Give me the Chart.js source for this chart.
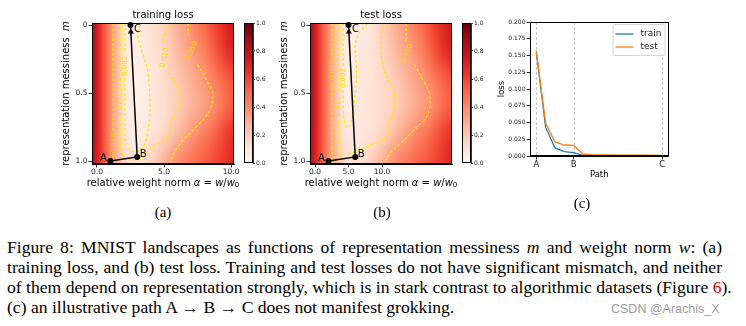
<!DOCTYPE html>
<html>
<head>
<meta charset="utf-8">
<script src="https://cdn.jsdelivr.net/npm/chart.js@4.4.0/dist/chart.umd.min.js"></script>
<style>
body { margin: 0; width: 746px; height: 326px; background: #fff; position: relative; overflow: hidden; }
canvas { position: absolute; top: 0; }
.cap { position: absolute; left: 7px; width: 650px; font-family: "Liberation Serif", serif; font-size: 16px; line-height: 20px; white-space: nowrap; color: #000; transform: scaleX(1.1); transform-origin: 0 0; }
.just { text-align: justify; text-align-last: justify; }
.sub { position: absolute; font-family: "Liberation Serif", serif; font-size: 15px; line-height: 20px; transform: translateX(-50%); }
.mark { position: absolute; left: 611px; top: 302px; font-family: "Liberation Sans", sans-serif; font-size: 12.5px; line-height: 15px; color: #9c9c9c; }
</style>
</head>
<body>
<canvas id="hmA" width="250" height="195" style="left:0px"></canvas>
<canvas id="cbA" width="40" height="195" style="left:236px"></canvas>
<canvas id="hmB" width="210" height="195" style="left:260px"></canvas>
<canvas id="cbB" width="40" height="195" style="left:454px"></canvas>
<canvas id="pathChart" width="200" height="195" style="left:480px"></canvas>

<div class="sub" style="left:163px;top:202px">(a)</div>
<div class="sub" style="left:382px;top:202px">(b)</div>
<div class="sub" style="left:582px;top:193px">(c)</div>

<div class="cap just" style="top:238px">Figure 8: MNIST landscapes as functions of representation messiness <i>m</i> and weight norm <i>w</i>: (a)</div>
<div class="cap just" style="top:258px">training loss, and (b) test loss. Training and test losses do not have significant mismatch, and neither</div>
<div class="cap just" style="top:278px">of them depend on representation strongly, which is in stark contrast to algorithmic datasets (Figure <span style="color:#e00000">6</span>).</div>
<div class="cap" style="top:298px">(c) an illustrative path A → B → C does not manifest grokking.</div>
<div class="mark">CSDN @Arachis_X</div>

<script>
// ---- data ----
// heatmap grids: rows are messiness m, columns are weight norm alpha, values on the 0..1 colour bar
const mRows = [0, 0.2, 0.4, 0.6, 0.8, 1.0];
const alphaColsA = [-0.5, 0, 0.5, 1, 1.5, 2, 2.5, 3, 3.5, 4, 4.5, 5, 5.5, 6, 6.5, 7, 7.5, 8, 8.5, 9, 9.5, 10, 10.5];
const trainGrid = [
	[0.90, 0.74, 0.56, 0.40, 0.25, 0.10, 0.05, 0.05, 0.08, 0.11, 0.14, 0.18, 0.23, 0.28, 0.33, 0.38, 0.44, 0.50, 0.56, 0.62, 0.68, 0.73, 0.76],
	[0.90, 0.74, 0.56, 0.40, 0.25, 0.10, 0.05, 0.045, 0.07, 0.10, 0.13, 0.16, 0.20, 0.25, 0.29, 0.33, 0.38, 0.43, 0.50, 0.57, 0.64, 0.69, 0.72],
	[0.90, 0.74, 0.56, 0.40, 0.25, 0.10, 0.05, 0.04, 0.05, 0.08, 0.11, 0.14, 0.17, 0.20, 0.24, 0.28, 0.32, 0.36, 0.41, 0.46, 0.51, 0.55, 0.58],
	[0.90, 0.74, 0.56, 0.40, 0.25, 0.10, 0.05, 0.04, 0.05, 0.075, 0.105, 0.13, 0.16, 0.19, 0.22, 0.26, 0.29, 0.33, 0.37, 0.42, 0.48, 0.53, 0.56],
	[0.89, 0.73, 0.56, 0.40, 0.25, 0.11, 0.06, 0.05, 0.07, 0.10, 0.13, 0.16, 0.20, 0.25, 0.30, 0.35, 0.40, 0.44, 0.49, 0.54, 0.60, 0.65, 0.68],
	[0.87, 0.72, 0.56, 0.40, 0.28, 0.17, 0.13, 0.12, 0.13, 0.16, 0.21, 0.27, 0.34, 0.39, 0.43, 0.46, 0.50, 0.53, 0.56, 0.60, 0.64, 0.68, 0.70],
];
const alphaColsB = [-1, 0, 1, 2, 3, 4, 5, 6, 7, 8, 9, 10, 11, 12, 13, 14, 15, 16, 17, 18, 19, 20, 21];
const testGrid = [
	[0.90, 0.74, 0.56, 0.40, 0.25, 0.10, 0.05, 0.05, 0.06, 0.08, 0.14, 0.18, 0.23, 0.28, 0.33, 0.38, 0.44, 0.50, 0.56, 0.62, 0.68, 0.73, 0.76],
	[0.90, 0.74, 0.56, 0.40, 0.25, 0.10, 0.05, 0.065, 0.085, 0.10, 0.13, 0.16, 0.20, 0.25, 0.29, 0.33, 0.38, 0.43, 0.50, 0.57, 0.64, 0.69, 0.72],
	[0.90, 0.74, 0.56, 0.40, 0.25, 0.10, 0.05, 0.065, 0.085, 0.10, 0.12, 0.145, 0.17, 0.20, 0.24, 0.28, 0.32, 0.36, 0.41, 0.46, 0.51, 0.55, 0.58],
	[0.90, 0.74, 0.56, 0.40, 0.25, 0.10, 0.055, 0.07, 0.09, 0.105, 0.12, 0.14, 0.16, 0.19, 0.22, 0.26, 0.29, 0.33, 0.37, 0.42, 0.48, 0.53, 0.56],
	[0.89, 0.73, 0.56, 0.40, 0.25, 0.12, 0.085, 0.08, 0.09, 0.10, 0.13, 0.16, 0.20, 0.25, 0.30, 0.35, 0.40, 0.44, 0.49, 0.54, 0.60, 0.65, 0.68],
	[0.87, 0.72, 0.56, 0.40, 0.28, 0.17, 0.13, 0.12, 0.13, 0.16, 0.21, 0.27, 0.34, 0.39, 0.43, 0.46, 0.50, 0.53, 0.56, 0.60, 0.64, 0.68, 0.70],
];

// contour lines as [alpha, m] points, null = gap for the inline label; labels are [alpha, m, angle]
const trainContours = [
	{ level: "0.050", pts: [[1.2, -0.015], [1.18, 0.25], [1.22, 0.55], [1.2, 0.79], null, [1.2, 0.95], [1.22, 1.022]], labels: [[1.25, 0.87, -90]] },
	{ level: "0.010", pts: [[1.75, -0.015], [1.72, 0.25], [1.74, 0.52], null, [1.74, 0.68], [1.76, 0.88], [1.95, 0.965], [2.5, 0.99], [3.2, 0.985], [3.7, 0.935], [4.3, 0.88], [5.0, 0.85], [5.4, 0.8], [5.45, 0.72], [5.9, 0.65], [6.2, 0.54], [5.95, 0.45], [5.3, 0.35], null, [4.9, 0.12], [5.3, -0.015]], labels: [[1.74, 0.6, -90], [5.05, 0.24, -78]] },
	{ level: "0.002", pts: [[2.1, -0.015], [2.08, 0.21], null, [2.08, 0.39], [2.1, 0.7], [2.15, 0.87], [2.5, 0.925], [3.0, 0.93], [3.5, 0.89], [3.85, 0.75], [3.95, 0.6], [3.8, 0.35], [3.3, 0.17], [3.05, 0.08], [3.26, -0.015]], labels: [[2.1, 0.3, -90]] },
	{ level: "0.050", pts: [[6.8, -0.015], [6.8, 0.09], null, [7.5, 0.29], [8.2, 0.41], [8.66, 0.51], [8.4, 0.63], [7.3, 0.76], [6.4, 0.85], [5.7, 0.95], [5.5, 1.022]], labels: [[7.05, 0.19, -65]] },
];
const testContours = [
	{ level: "0.050", pts: [[2.54, -0.015], [2.54, 0.25], null, [2.55, 0.42], [2.5, 0.7], [2.55, 1.022]], labels: [[2.6, 0.33, -90]] },
	{ level: "0.010", pts: [[3.5, -0.015], [3.45, 0.3], [3.48, 0.5], null, [3.5, 0.7], [3.5, 0.9], [3.7, 0.97], [4.6, 0.955], [6.4, 0.925], [8.6, 0.875], [10.0, 0.85], [10.9, 0.8], [10.9, 0.73], [11.6, 0.66], [11.9, 0.55], [11.6, 0.46], [10.6, 0.37], [10.0, 0.25], [9.9, 0.1], [10.3, -0.015]], labels: [[3.48, 0.6, -90]] },
	{ level: "0.002", pts: [[4.2, -0.015], [4.2, 0.3], null, [4.2, 0.48], [4.25, 0.65], [4.55, 0.74], [5.0, 0.755], [5.5, 0.69], [5.9, 0.55], [6.2, 0.35], [6.0, 0.14], [6.6, 0.06], [7.9, -0.015]], labels: [[4.2, 0.39, -90]] },
	{ level: "0.050", pts: [[13.6, -0.015], [13.6, 0.13], null, [14.8, 0.29], [16.2, 0.41], [17.1, 0.51], [16.8, 0.66], [14.6, 0.78], [12.8, 0.87], [11.1, 0.95], [10.3, 1.022]], labels: [[13.75, 0.21, -65]] },
];

// path A -> B -> C drawn on the landscapes
const pathNames = ["A", "B", "C"];
const pathTrain = [[1.0, 1.0], [3.0, 0.97], [2.5, 0.0]];
const arrowTrain = [2.53, 0.05];
const pathTest = [[2.0, 1.0], [6.0, 0.97], [5.0, 0.0]];
const arrowTest = [5.05, 0.05];

// axis ticks
const heatXTicks = [0, 5, 10];
const heatXTickLabels = ["0.0", "5.0", "10.0"];
const heatYTicks = [0, 0.5, 1.0];
const heatYTickLabels = ["0", "0.5", "1.0"];
const cbarRange = [0, 1];
const cbarTicks = [0, 0.2, 0.4, 0.6, 0.8, 1.0];
const cbarTickLabels = ["0.0", "0.2", "0.4", "0.6", "0.8", "1.0"];

// loss along the path (c)
const pathPos = [0, 2, 4, 6, 8, 10, 12, 15, 18, 21, 24, 27];
const trainLoss = [0.155, 0.043, 0.012, 0.0064, 0.005, 0.0009, 0.0004, 0.0003, 0.0002, 0.0002, 0.0002, 0.0002];
const testLoss = [0.157, 0.049, 0.021, 0.0164, 0.016, 0.003, 0.0022, 0.0017, 0.0014, 0.0012, 0.0011, 0.001];
const pathTicks = [0, 8, 27];
const pathTickLabels = ["A", "B", "C"];

// ---- drawing ----
Chart.defaults.font.family = '"DejaVu Sans"';
Chart.defaults.color = "#222";

const redsStops = ["#fff5f0", "#fee0d2", "#fcbba1", "#fc9272", "#fb6a4a", "#ef3b2c", "#cb181d", "#a50f15", "#67000d"];
const redsRgb = redsStops.map((h) => [parseInt(h.slice(1, 3), 16), parseInt(h.slice(3, 5), 16), parseInt(h.slice(5, 7), 16)]);
function reds(v) {
	v = Math.max(0, Math.min(1, v));
	const t = v * (redsRgb.length - 1);
	const i = Math.min(Math.floor(t), redsRgb.length - 2);
	const f = t - i;
	return redsRgb[i].map((c, k) => Math.round(c + (redsRgb[i + 1][k] - c) * f));
}

const N10 = '10px "DejaVu Sans"';
const I10 = 'italic 10px "DejaVu Sans"';

function drawParts(ctx, parts, x, y, rot) {
	ctx.save();
	ctx.translate(x, y);
	if (rot) ctx.rotate(rot);
	let w = 0;
	parts.forEach((p) => { ctx.font = p.font; w += ctx.measureText(p.text).width; });
	let cx = -w / 2;
	ctx.textBaseline = "middle";
	ctx.textAlign = "left";
	ctx.fillStyle = "#000";
	parts.forEach((p) => {
		ctx.font = p.font;
		ctx.fillText(p.text, cx, p.dy || 0);
		cx += ctx.measureText(p.text).width;
	});
	ctx.restore();
}

const framePlugin = {
	id: "frame",
	afterDatasetsDraw(chart) {
		const a = chart.chartArea, ctx = chart.ctx;
		ctx.save();
		ctx.strokeStyle = "#000";
		ctx.lineWidth = 1;
		ctx.strokeRect(Math.round(a.left) + 0.5, Math.round(a.top) + 0.5, Math.round(a.right - a.left) - 1, Math.round(a.bottom - a.top) - 1);
		ctx.restore();
	},
};

function heatmapPlugin(cols, rows, grid) {
	return {
		id: "heatmap",
		beforeDatasetsDraw(chart) {
			const { ctx, chartArea: a, scales: { x, y } } = chart;
			const nx = cols.length, ny = rows.length;
			const off = document.createElement("canvas");
			off.width = nx;
			off.height = ny;
			const octx = off.getContext("2d");
			const img = octx.createImageData(nx, ny);
			grid.forEach((row, j) => row.forEach((v, i) => {
				const c = reds(v), k = (j * nx + i) * 4;
				img.data[k] = c[0]; img.data[k + 1] = c[1]; img.data[k + 2] = c[2]; img.data[k + 3] = 255;
			}));
			octx.putImageData(img, 0, 0);
			const dx = cols[1] - cols[0], dy = rows[1] - rows[0];
			const x0 = x.getPixelForValue(cols[0] - dx / 2), x1 = x.getPixelForValue(cols[nx - 1] + dx / 2);
			const y0 = y.getPixelForValue(rows[0] - dy / 2), y1 = y.getPixelForValue(rows[ny - 1] + dy / 2);
			ctx.save();
			ctx.beginPath();
			ctx.rect(a.left, a.top, a.right - a.left, a.bottom - a.top);
			ctx.clip();
			ctx.imageSmoothingEnabled = true;
			ctx.imageSmoothingQuality = "high";
			ctx.drawImage(off, 0, 0, nx, ny, x0, y0, x1 - x0, y1 - y0);
			ctx.restore();
		},
	};
}

function heatOverlay(title, contours, path) {
	return {
		id: "heatOverlay",
		afterDatasetsDraw(chart) {
			const { ctx, chartArea: a, scales: { x, y } } = chart;
			// contour labels
			ctx.save();
			ctx.font = '7px "DejaVu Sans"';
			ctx.fillStyle = "#f2dc00";
			ctx.textAlign = "center";
			ctx.textBaseline = "middle";
			contours.forEach((c) => c.labels.forEach((l) => {
				ctx.save();
				ctx.translate(x.getPixelForValue(l[0]), y.getPixelForValue(l[1]));
				ctx.rotate((l[2] * Math.PI) / 180);
				ctx.fillText(c.level, 0, 0);
				ctx.restore();
			}));
			ctx.restore();
			// path letters
			const offs = [[-7, -3], [6, -3], [7, 4]];
			ctx.save();
			ctx.font = N10;
			ctx.fillStyle = "#000";
			ctx.textAlign = "center";
			ctx.textBaseline = "middle";
			path.forEach((p, i) => {
				ctx.fillText(pathNames[i], x.getPixelForValue(p[0]) + offs[i][0], y.getPixelForValue(p[1]) + offs[i][1]);
			});
			ctx.restore();
			// title and axis titles
			drawParts(ctx, [{ text: title, font: N10 }], (a.left + a.right) / 2, a.top - 8, 0);
			drawParts(ctx, [
				{ text: "relative weight norm ", font: N10 },
				{ text: "α", font: I10 },
				{ text: " = ", font: N10 },
				{ text: "w", font: I10 },
				{ text: "/", font: N10 },
				{ text: "w", font: I10 },
				{ text: "0", font: '7px "DejaVu Sans"', dy: 2.5 },
			], (a.left + a.right) / 2, a.bottom + 19, 0);
			drawParts(ctx, [
				{ text: "representation messiness  ", font: N10 },
				{ text: "m", font: I10 },
			], a.left - 26, (a.top + a.bottom) / 2, -Math.PI / 2);
		},
	};
}

const toXY = (pts) => {
	let last = 0;
	return pts.map((p) => {
		if (p === null) return { x: last, y: null };
		last = p[0];
		return { x: p[0], y: p[1] };
	});
};

const axisGrid = { drawOnChartArea: false, drawTicks: true, tickLength: 3.5, color: "#000", lineWidth: 0.8 };
const axisBorder = { display: true, color: "#000", width: 1 };

function heatmapChart(id, o) {
	const datasets = [
		{
			data: toXY(o.path), showLine: true, borderColor: "#000", borderWidth: 1.5,
			pointRadius: 3, pointBackgroundColor: "#000", pointBorderWidth: 0, clip: false,
		},
		{
			data: toXY([o.arrow]), showLine: false, pointStyle: "triangle", pointRadius: 3.5,
			pointBackgroundColor: "#000", pointBorderColor: "#000", pointBorderWidth: 0, clip: false,
		},
	];
	o.contours.forEach((c) => {
		datasets.push({
			data: toXY(c.pts), showLine: true, borderColor: "#ffea00", borderWidth: 1.2,
			borderDash: [3, 2], pointRadius: 0, tension: 0.35, spanGaps: false,
		});
	});

	new Chart(document.getElementById(id), {
		type: "scatter",
		data: { datasets: datasets },
		options: {
			responsive: false,
			animation: false,
			events: [],
			layout: { padding: { left: 0, right: o.padRight, top: 23, bottom: 0 } },
			plugins: { legend: { display: false }, tooltip: { enabled: false } },
			scales: {
				x: {
					type: "linear", min: o.xMin, max: o.xMax,
					afterFit: (s) => { s.height = 31; },
					afterBuildTicks: (s) => { s.ticks = heatXTicks.map((v) => ({ value: v })); },
					ticks: { callback: (v, i) => heatXTickLabels[i], font: { size: 7.5 }, padding: 0, maxRotation: 0, autoSkip: false },
					grid: axisGrid, border: axisBorder,
				},
				y: {
					type: "linear", reverse: true, min: -0.015, max: 1.022,
					afterFit: (s) => { s.width = o.yAxisWidth; },
					afterBuildTicks: (s) => { s.ticks = heatYTicks.map((v) => ({ value: v })); },
					ticks: { callback: (v, i) => heatYTickLabels[i], font: { size: 7.5 }, padding: 1, autoSkip: false },
					grid: axisGrid, border: axisBorder,
				},
			},
		},
		plugins: [heatmapPlugin(o.cols, mRows, o.grid), heatOverlay(o.title, o.contours, o.path), framePlugin],
	});
}

function colorbarChart(id) {
	new Chart(document.getElementById(id), {
		type: "bar",
		data: {
			labels: [""],
			datasets: [{
				data: [cbarRange],
				backgroundColor: (c) => {
					const a = c.chart.chartArea;
					if (!a) return "#fb6a4a";
					const g = c.chart.ctx.createLinearGradient(0, a.bottom, 0, a.top);
					redsStops.forEach((col, i) => g.addColorStop(i / (redsStops.length - 1), col));
					return g;
				},
				borderWidth: 0, barPercentage: 1, categoryPercentage: 1,
			}],
		},
		options: {
			responsive: false,
			animation: false,
			events: [],
			layout: { padding: { left: 8, top: 23, bottom: 32, right: 0 } },
			plugins: { legend: { display: false }, tooltip: { enabled: false } },
			scales: {
				x: { display: false },
				y: {
					position: "right", min: 0, max: 1,
					afterFit: (s) => { s.width = 23; },
					afterBuildTicks: (s) => { s.ticks = cbarTicks.map((v) => ({ value: v })); },
					ticks: { callback: (v, i) => cbarTickLabels[i], font: { size: 6 }, padding: 1 },
					grid: { drawOnChartArea: false, tickLength: 2, color: "#000", lineWidth: 0.8 },
					border: { display: true, color: "#000", width: 0.8 },
				},
			},
		},
		plugins: [framePlugin],
	});
}

heatmapChart("hmA", {
	title: "training loss", cols: alphaColsA, grid: trainGrid, contours: trainContours,
	path: pathTrain, arrow: arrowTrain, xMin: -0.37, xMax: 10.22, yAxisWidth: 92, padRight: 16,
});
heatmapChart("hmB", {
	title: "test loss", cols: alphaColsB, grid: testGrid, contours: testContours,
	path: pathTest, arrow: arrowTest, xMin: -0.75, xMax: 20.45, yAxisWidth: 50, padRight: 18,
});
colorbarChart("cbA");
colorbarChart("cbB");

// (c) loss along the path
const pathOverlay = {
	id: "pathOverlay",
	beforeDatasetsDraw(chart) {
		const { ctx, chartArea: a, scales: { x } } = chart;
		ctx.save();
		ctx.strokeStyle = "#c8c8c8";
		ctx.lineWidth = 1;
		ctx.setLineDash([3, 2]);
		pathTicks.forEach((v) => {
			const px = Math.round(x.getPixelForValue(v)) + 0.5;
			ctx.beginPath();
			ctx.moveTo(px, a.top);
			ctx.lineTo(px, a.bottom);
			ctx.stroke();
		});
		ctx.restore();
	},
	afterDatasetsDraw(chart) {
		const { ctx, chartArea: a } = chart;
		// legend
		const bw = 52, bh = 31;
		const bx = a.right - 4 - bw, by = a.top + 2;
		ctx.save();
		ctx.fillStyle = "rgba(255,255,255,0.85)";
		ctx.strokeStyle = "#d8d8d8";
		ctx.lineWidth = 1;
		ctx.beginPath();
		ctx.roundRect(bx + 0.5, by + 0.5, bw, bh, 2);
		ctx.fill();
		ctx.stroke();
		ctx.font = '9px "DejaVu Sans"';
		ctx.textBaseline = "middle";
		ctx.textAlign = "left";
		chart.data.datasets.forEach((ds, i) => {
			const ly = by + 10 + i * 13;
			ctx.strokeStyle = ds.borderColor;
			ctx.lineWidth = 1.3;
			ctx.beginPath();
			ctx.moveTo(bx + 3, ly);
			ctx.lineTo(bx + 21, ly);
			ctx.stroke();
			ctx.fillStyle = "#222";
			ctx.fillText(ds.label, bx + 28, ly);
		});
		ctx.restore();
		// axis titles
		const f = '8.5px "DejaVu Sans"';
		drawParts(ctx, [{ text: "Path", font: f }], (a.left + a.right) / 2, a.bottom + 19, 0);
		drawParts(ctx, [{ text: "loss", font: f }], a.left - 28, (a.top + a.bottom) / 2, -Math.PI / 2);
	},
};

new Chart(document.getElementById("pathChart"), {
	type: "scatter",
	data: {
		datasets: [
			{
				label: "train", data: pathPos.map((p, i) => ({ x: p, y: trainLoss[i] })),
				showLine: true, borderColor: "#1f77b4", borderWidth: 1.3, pointRadius: 0, order: 1,
			},
			{
				label: "test", data: pathPos.map((p, i) => ({ x: p, y: testLoss[i] })),
				showLine: true, borderColor: "#ff7f0e", borderWidth: 1.3, pointRadius: 0, order: 0,
			},
		],
	},
	options: {
		responsive: false,
		animation: false,
		events: [],
		layout: { padding: { left: 0, right: 11.5, top: 22, bottom: 0 } },
		plugins: { legend: { display: false }, tooltip: { enabled: false } },
		scales: {
			x: {
				type: "linear", min: -1.35, max: 28.35,
				afterFit: (s) => { s.height = 39; },
				afterBuildTicks: (s) => { s.ticks = pathTicks.map((v) => ({ value: v })); },
				ticks: { callback: (v, i) => pathTickLabels[i], font: { size: 8.5 }, padding: 0, maxRotation: 0, autoSkip: false },
				grid: axisGrid, border: axisBorder,
			},
			y: {
				min: 0, max: 0.2,
				afterFit: (s) => { s.width = 50; },
				ticks: { stepSize: 0.025, callback: (v) => v.toFixed(3), font: { size: 6 }, padding: 1 },
				grid: axisGrid, border: axisBorder,
			},
		},
	},
	plugins: [pathOverlay, framePlugin],
});
</script>
</body>
</html>
